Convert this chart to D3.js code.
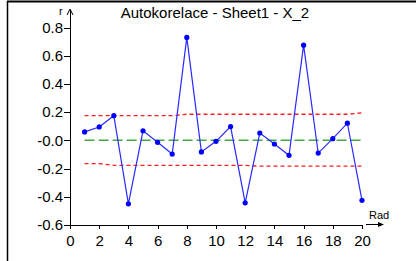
<!DOCTYPE html>
<html>
<head>
<meta charset="utf-8">
<script src="https://cdn.jsdelivr.net/npm/d3@7"></script>
<style>
  html, body { margin: 0; padding: 0; background: #fff; }
  svg { display: block; font-family: "Liberation Sans", Arial, sans-serif; }
  .axis path, .axis line { stroke: #000; shape-rendering: crispEdges; }
  .axis text { font-size: 15px; fill: #000; }
</style>
</head>
<body>
<svg id="chart" width="416" height="261"></svg>
<script>
// autocorrelation by lag
var lags = [1, 2, 3, 4, 5, 6, 7, 8, 9, 10, 11, 12, 13, 14, 15, 16, 17, 18, 19, 20];
var acf = [0.06, 0.095, 0.175, -0.45, 0.068, -0.014, -0.097, 0.73, -0.082, -0.007,
           0.098, -0.443, 0.052, -0.026, -0.106, 0.675, -0.09, 0.012, 0.122, -0.425];
// confidence limits
var upperBound = [0.175, 0.175, 0.175, 0.175, 0.175, 0.175, 0.175, 0.185, 0.185, 0.185,
                  0.185, 0.185, 0.185, 0.185, 0.185, 0.185, 0.185, 0.185, 0.185, 0.195];
var lowerBound = [-0.165, -0.165, -0.177, -0.177, -0.177, -0.177, -0.177, -0.177, -0.177, -0.177,
                  -0.177, -0.177, -0.183, -0.183, -0.183, -0.183, -0.183, -0.183, -0.183, -0.183];
var xTicks = [0, 2, 4, 6, 8, 10, 12, 14, 16, 18, 20];
var yTicks = [-0.6, -0.4, -0.2, 0, 0.2, 0.4, 0.6, 0.8];
var yTickLabels = ["-0.6", "-0.4", "-0.2", "-0.0", "0.2", "0.4", "0.6", "0.8"];

var svg = d3.select("#chart");

var x = d3.scaleLinear().domain([0, 20]).range([70, 362]);
var y = d3.scaleLinear().domain([-0.6, 0.8]).range([225, 27.5]);

// frame
svg.append("line").attr("x1", 7).attr("x2", 416).attr("y1", 1.5).attr("y2", 1.5)
  .attr("stroke", "#000").attr("stroke-width", 2);
svg.append("line").attr("x1", 7.5).attr("x2", 7.5).attr("y1", 1).attr("y2", 261)
  .attr("stroke", "#000").attr("stroke-width", 1.5);

// title
svg.append("text")
  .attr("x", 215).attr("y", 18)
  .attr("text-anchor", "middle")
  .style("font-size", "15px")
  .text("Autokorelace - Sheet1 - X_2");

// axes
svg.append("g")
  .attr("class", "axis")
  .attr("transform", "translate(0,225)")
  .call(d3.axisBottom(x).tickValues(xTicks).tickSize(4).tickSizeOuter(0).tickPadding(6));

svg.append("g")
  .attr("class", "axis")
  .attr("transform", "translate(70,0)")
  .call(d3.axisLeft(y).tickValues(yTicks).tickSize(6).tickSizeOuter(0).tickPadding(1)
    .tickFormat(function(d, i) { return yTickLabels[i]; }));

// y axis arrow
svg.append("line").attr("x1", 70).attr("x2", 70).attr("y1", y(0.8)).attr("y2", 10)
  .attr("stroke", "#000").attr("shape-rendering", "crispEdges");
svg.append("path").attr("d", "M67,15 L70,9 L73,15")
  .attr("fill", "none").attr("stroke", "#000").attr("stroke-width", 1);
svg.append("text").attr("x", 59).attr("y", 15).style("font-size", "11px").text("r");

// x axis arrow
svg.append("line").attr("x1", 366).attr("x2", 380).attr("y1", 224.5).attr("y2", 224.5)
  .attr("stroke", "#000");
svg.append("path").attr("d", "M378,222 L384,224.5 L378,227 Z").attr("fill", "#000");
svg.append("text").attr("x", 369).attr("y", 219).style("font-size", "11px").text("Rad");

// zero line
svg.append("line")
  .attr("x1", x(1)).attr("x2", x(20))
  .attr("y1", y(0)).attr("y2", y(0))
  .attr("stroke", "#44a844").attr("stroke-width", 1.5)
  .attr("stroke-dasharray", "10,4");

// confidence limits
var boundLine = d3.line()
  .x(function(d, i) { return x(lags[i]); })
  .y(function(d) { return y(d); });

svg.selectAll(".bound")
  .data([upperBound, lowerBound])
  .enter().append("path")
  .attr("class", "bound")
  .attr("d", boundLine)
  .attr("fill", "none").attr("stroke", "#ff1f1f").attr("stroke-width", 1.4)
  .attr("stroke-dasharray", "4,3");

// acf line and points
var acfLine = d3.line()
  .x(function(d, i) { return x(lags[i]); })
  .y(function(d) { return y(d); });

svg.append("path").datum(acf)
  .attr("d", acfLine)
  .attr("fill", "none").attr("stroke", "#2a2aff").attr("stroke-width", 1.2);

svg.selectAll(".pt")
  .data(acf)
  .enter().append("circle")
  .attr("class", "pt")
  .attr("cx", function(d, i) { return x(lags[i]); })
  .attr("cy", function(d) { return y(d); })
  .attr("r", 2.6)
  .attr("fill", "#0000ff");
</script>
</body>
</html>
